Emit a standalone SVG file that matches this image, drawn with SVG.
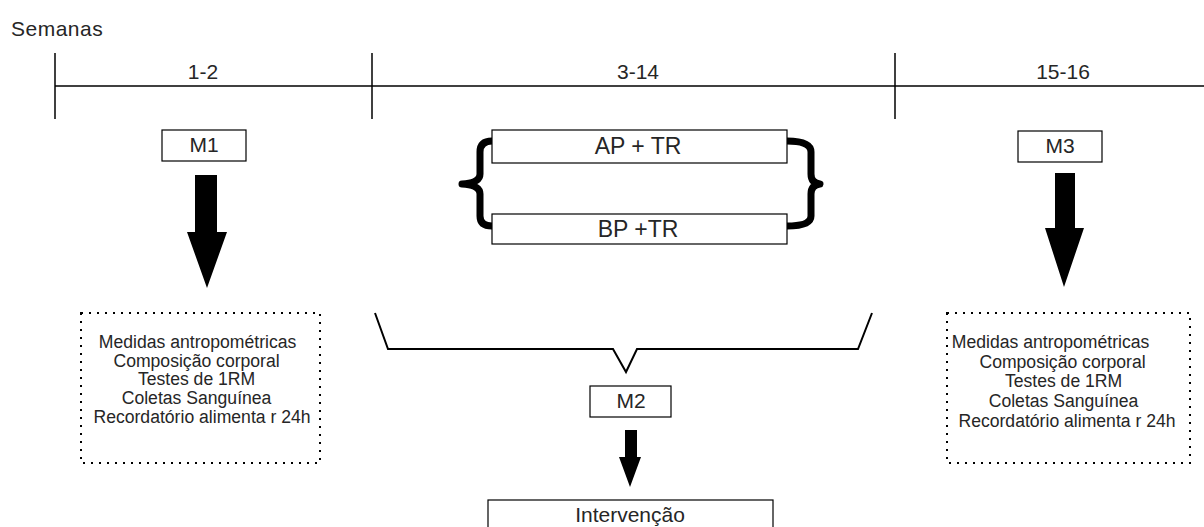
<svg xmlns="http://www.w3.org/2000/svg" width="1204" height="527" viewBox="0 0 1204 527">
<style>
text{font-family:"Liberation Sans",Arial,sans-serif;fill:#262626}
.line{stroke:#000;stroke-width:1.5;fill:none}
.box{fill:#fff;stroke:#000;stroke-width:1.2}
.dot{fill:none;stroke:#000;stroke-width:2;stroke-dasharray:2 6}
.arrow{fill:#000;stroke:none}
.brace{fill:none;stroke:#000;stroke-width:7;stroke-linejoin:round}
.lbl{font-size:21px;text-anchor:middle}
.mid{text-anchor:middle}
.list{font-size:17.6px;text-anchor:middle}
</style>
<rect width="1204" height="527" fill="#fff"/>
<g id="timeline">
<text x="11" y="36" font-size="21" letter-spacing="0.5">Semanas</text>
<line class="line" x1="55" y1="86" x2="1204" y2="86"/>
<line class="line" x1="55" y1="53" x2="55" y2="119"/>
<line class="line" x1="372" y1="53" x2="372" y2="119"/>
<line class="line" x1="895" y1="53" x2="895" y2="119"/>
<text class="lbl" x="203" y="79">1-2</text>
<text class="lbl" x="638" y="79">3-14</text>
<text class="lbl" x="1063" y="79">15-16</text>
</g>
<g id="m1">
<rect class="box" x="162" y="130" width="84" height="31"/>
<text class="mid" x="204" y="152" font-size="21">M1</text>
</g>
<g id="m3">
<rect class="box" x="1018" y="131" width="84" height="31"/>
<text class="mid" x="1060" y="153" font-size="21">M3</text>
</g>
<g id="ap">
<rect class="box" x="492" y="130" width="295" height="33"/>
<text class="mid" x="638" y="154" font-size="23">AP + TR</text>
</g>
<g id="bp">
<rect class="box" x="492" y="214" width="295" height="30"/>
<text class="mid" x="638" y="237" font-size="23">BP +TR</text>
</g>
<g id="braces">
<path class="brace" d="M492 141 Q480 141 480 152 L480 174 Q480 183 462 184 Q480 185 480 194 L480 216 Q480 226 492 226"/>
<path class="brace" d="M787 141 Q811 141 811 152 L811 174 Q811 183 820 184 Q811 185 811 194 L811 216 Q811 226 787 226"/>
</g>
<g id="m2">
<rect class="box" x="590" y="386" width="81" height="31"/>
<text class="mid" x="631" y="408" font-size="21">M2</text>
</g>
<g id="intervencao">
<rect class="box" x="488" y="500" width="285" height="40"/>
<text class="mid" x="630" y="522" font-size="21">Intervenção</text>
</g>
<g id="medidas1">
<rect class="dot" x="81" y="313" width="239" height="150"/>
<text class="list">
<tspan x="200" y="348">Medidas antropométricas</tspan>
<tspan x="199" y="367">Composição corporal</tspan>
<tspan x="199" y="385">Testes de 1RM</tspan>
<tspan x="199" y="404">Coletas Sanguínea</tspan>
<tspan x="202" y="423">Recordatório alimenta r 24h</tspan>
</text>
</g>
<g id="medidas3">
<rect class="dot" x="947" y="313" width="243" height="150"/>
<text class="list">
<tspan x="1053" y="348">Medidas antropométricas</tspan>
<tspan x="1065" y="368">Composição corporal</tspan>
<tspan x="1066" y="387">Testes de 1RM</tspan>
<tspan x="1066" y="407">Coletas Sanguínea</tspan>
<tspan x="1067" y="427">Recordatório alimenta r 24h</tspan>
</text>
</g>
<g id="connectors">
<path class="arrow" d="M195 175 H217 V232 H227 L207 288 L187 232 H195 Z"/>
<path class="arrow" d="M1055 173 H1075 V228 H1084 L1064 287 L1045 228 H1055 Z"/>
<path class="arrow" d="M625 430 H637 V457 H641 L630 487 L619 457 H625 Z"/>
<path class="line" style="stroke-width:2" d="M375 313 L388 349 H613 L626 372 L637 349 H858 L872 313"/>
</g>
</svg>
